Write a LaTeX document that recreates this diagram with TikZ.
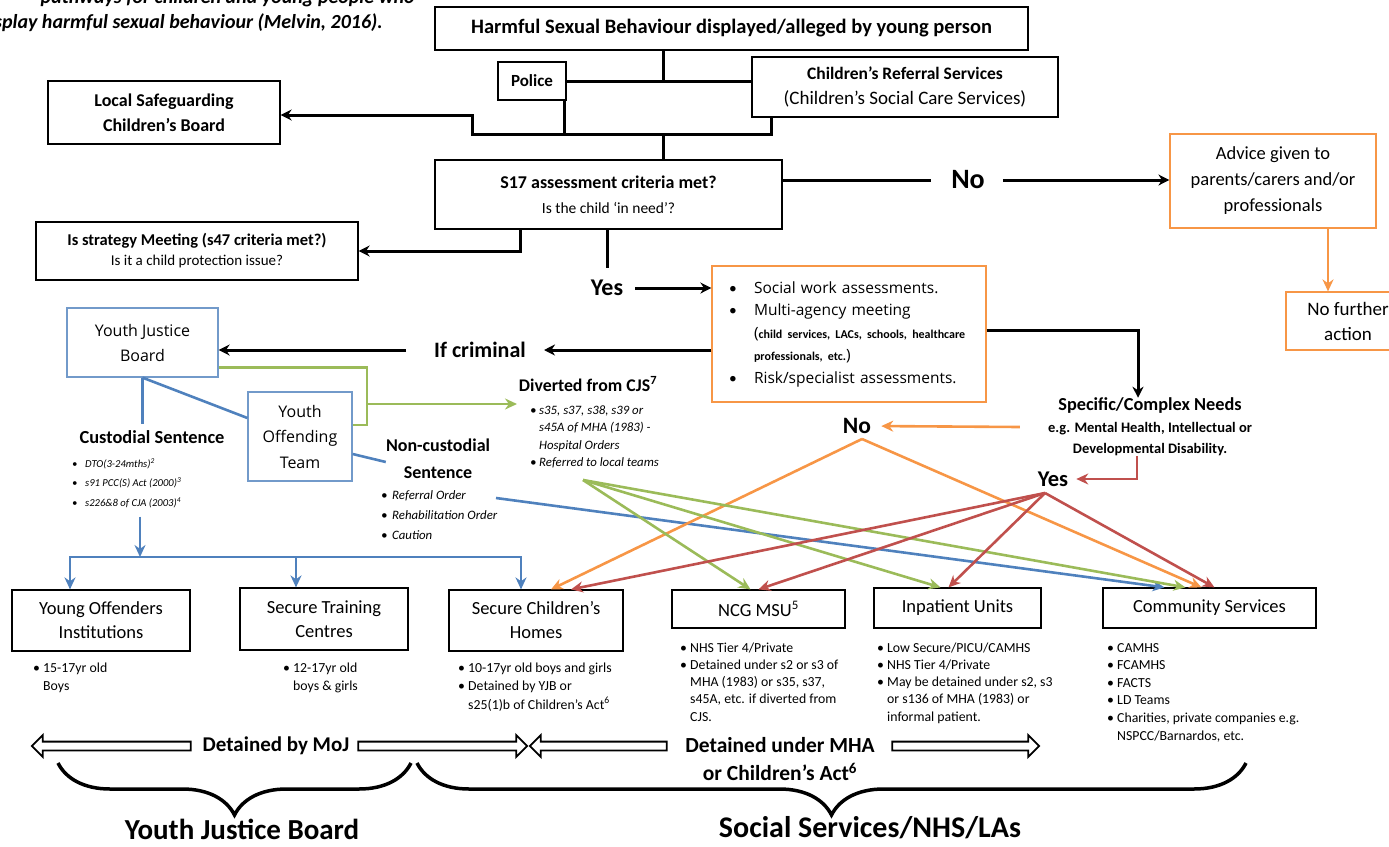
\documentclass[tikz,border=0pt]{standalone}
\usepackage{fontspec}
\setmainfont{Carlito}
\newfontfamily\osfont{Open Sans}
\usetikzlibrary{arrows.meta,decorations.pathreplacing,shapes.arrows}
\definecolor{hsorange}{HTML}{F79646}
\definecolor{hsblue}{HTML}{4F81BD}
\definecolor{hsgreen}{HTML}{9BBB59}
\definecolor{hsred}{HTML}{C0504D}
\newcommand{\fsz}[2]{\fontsize{#1}{#2}\selectfont}
\newcommand{\itm}[1][10pt]{\makebox[#1][l]{\rmfamily\textbullet}}

\begin{document}
\begin{tikzpicture}[x=1pt, y=-1pt,
    box/.style = {draw, line width=1.2pt, align=center, inner sep=0pt, font=\fsz{18.5}{24}},
    obox/.style = {box, draw=hsorange},
    bbox/.style = {box, draw=hsblue!80!white},
    lbl/.style = {inner sep=0pt, align=center},
    lst/.style = {inner sep=0pt, align=left, anchor=base west},
    con/.style = {line width=3pt},
    arr/.style = {con, -{Stealth[length=11pt,width=11pt]}},
    oline/.style = {line width=2.6pt, draw=hsorange},
    oarr/.style = {oline, -{Stealth[length=12pt,width=11pt]}},
    gline/.style = {line width=2.6pt, draw=hsgreen},
    garr/.style = {gline, -{Stealth[length=12pt,width=11pt]}},
    bline/.style = {line width=2.6pt, draw=hsblue},
    barr/.style = {bline, -{Stealth[length=12pt,width=11pt]}},
    rarr/.style = {line width=2.6pt, draw=hsred, -{Stealth[length=12pt,width=11pt]}},
    harrow/.style = {single arrow, draw, fill=white, line width=1.8pt, inner sep=3.5pt,
      single arrow head extend=6.5pt, single arrow head indent=0pt},
    brc/.style = {line width=3.5pt, decorate, decoration={brace, mirror, amplitude=52pt}}]
\clip (0,0) rectangle (1389,846);
\node[lbl, font=\bfseries\itshape\fsz{20}{25}, anchor=base east] (ttl1) at (415,3) {pathways for children and young people who};
\node[lbl, font=\bfseries\itshape\fsz{20}{25}, anchor=base east] (ttl2) at (383,28) {display harmful sexual behaviour (Melvin, 2016).};

\node[box, minimum width=593pt, minimum height=43pt, font=\bfseries\fsz{20.5}{24}] (hsb) at (731.5,28.5) {Harmful Sexual Behaviour displayed/alleged by young person};
\node[box, minimum width=68pt, minimum height=38pt, font=\bfseries\fsz{17}{20}] (police) at (532,81) {Police};
\node[box, minimum width=306pt, minimum height=60pt, font=\fsz{19}{25}] (crs) at (905,87) {{\bfseries\fsz{17.5}{25}Children’s Referral Services}\\(Children’s Social Care Services)};
\node[box, minimum width=232pt, minimum height=63pt, font=\bfseries\fsz{18}{25}] (lscb) at (164,112.5) {Local Safeguarding\\Children’s Board};
\node[box, minimum width=347pt, minimum height=69pt, font=\fsz{15.5}{25}] (s17) at (608.5,194.5) {{\bfseries\fsz{18}{25}S17 assessment criteria met?}\\Is the child ‘in need’?};
\node[box, minimum width=322pt, minimum height=58pt, font=\fsz{15}{20}] (strat) at (197,251) {{\bfseries\fsz{16.5}{20}Is strategy Meeting (s47 criteria met?)}\\Is it a child protection issue?};
\node[obox, minimum width=206pt, minimum height=94pt, font=\fsz{18.5}{26}] (advice) at (1273,181) {Advice given to\\parents/carers and/or\\professionals};
\node[obox, minimum width=124pt, minimum height=58pt, font=\fsz{19}{25}] (nfa) at (1348,321) {No further\\action};
\node[obox, minimum width=274pt, minimum height=136pt, text width=240pt, inner xsep=17pt, align=left, font=\osfont\fsz{15.5}{22.5}] (swk) at (849,334) {\itm[25pt]Social work assessments.\\ \itm[25pt]Multi-agency meeting\\ \hspace*{25pt}(\mbox{\rmfamily\bfseries\fsz{12}{12}child services, LACs, schools, healthcare}\\ \hspace*{25pt}\mbox{\rmfamily\bfseries\fsz{12}{12}professionals, etc.})\\ \itm[25pt]Risk/specialist assessments.};
\node[bbox, minimum width=151pt, minimum height=69pt, font=\osfont\fsz{16}{25}] (yjb) at (142.5,342.5) {Youth Justice\\Board};
\node[bbox, minimum width=104pt, minimum height=89pt, font=\osfont\fsz{16}{25.5}] (yot) at (300,436.5) {Youth\\Offending\\Team};

\node[lbl, font=\bfseries\fsz{28}{32}] (no1) at (968,180) {No};
\node[lbl, font=\bfseries\fsz{24}{28}] (yes1) at (607,288) {Yes};
\node[lbl, font=\bfseries\fsz{22}{26}] (crim) at (480,350) {If criminal};
\node[lbl, font=\bfseries\fsz{18.4}{22}] (cust) at (152,437) {Custodial Sentence};
\node[lst, font=\itshape\fsz{10.6}{19.5}] (custl) at (72,506) {\itm[13pt]DTO(3-24mths)\textsuperscript{2}\\ \itm[13pt]s91 PCC(S) Act (2000)\textsuperscript{3}\\ \itm[13pt]s226\&8 of CJA (2003)\textsuperscript{4}};
\node[lbl, font=\bfseries\fsz{18}{27}] (ncust) at (438,458.5) {Non-custodial\\Sentence};
\node[lst, font=\itshape\fsz{12.8}{20}] (ncustl) at (381,539) {\itm[11pt]Referral Order\\ \itm[11pt]Rehabilitation Order\\ \itm[11pt]Caution};
\node[lbl, font=\bfseries\fsz{17.8}{22}] (div) at (588,384) {Diverted from CJS\textsuperscript{7}};
\node[lst, font=\itshape\fsz{12.8}{17.5}] (divl) at (530,466.5) {\itm[9pt]s35, s37, s38, s39 or\\ \hspace*{9pt}s45A of MHA (1983) -\\ \hspace*{9pt}Hospital Orders\\ \itm[9pt]Referred to local teams};
\node[lbl, font=\bfseries\fsz{14.5}{21.5}] (needs) at (1150,427) {{\fsz{18.3}{21.5}Specific/Complex Needs}\\e.g. Mental Health, Intellectual or\\Developmental Disability.};
\node[lbl, font=\bfseries\fsz{23.5}{27}] (no2) at (857,426) {No};
\node[lbl, font=\bfseries\fsz{22.5}{26}] (yes2) at (1053,479) {Yes};

\node[box, minimum width=178pt, minimum height=61pt] (yoi) at (101,620.5) {Young Offenders\\Institutions};
\node[box, minimum width=168pt, minimum height=62pt] (stc) at (324,619) {Secure Training\\Centres};
\node[box, minimum width=174pt, minimum height=61pt] (sch) at (536,620.5) {Secure Children’s\\Homes};
\node[box, minimum width=173pt, minimum height=38pt] (msu) at (758.5,609) {NCG MSU\textsuperscript{5}};
\node[box, minimum width=167pt, minimum height=40pt] (inp) at (957.5,608) {Inpatient Units};
\node[box, minimum width=213pt, minimum height=40pt] (com) at (1209.5,608) {Community Services};

\node[lst, font=\fsz{13.8}{18}] (yoil) at (33,690) {\itm 15-17yr old\\ \hspace*{10pt}Boys};
\node[lst, font=\fsz{13.8}{18}] (stcl) at (283,690) {\itm 12-17yr old\\ \hspace*{10pt}boys \& girls};
\node[lst, font=\fsz{13.8}{18.5}] (schl) at (458,709) {\itm 10-17yr old boys and girls\\ \itm Detained by YJB or\\ \hspace*{10pt}s25(1)b of Children’s Act\textsuperscript{6}};
\node[lst, font=\fsz{13.8}{17.3}] (msul) at (680,721.2) {\itm NHS Tier 4/Private\\ \itm Detained under s2 or s3 of\\ \hspace*{10pt}MHA (1983) or s35, s37,\\ \hspace*{10pt}s45A, etc. if diverted from\\ \hspace*{10pt}CJS.};
\node[lst, font=\fsz{13.8}{17.3}] (inpl) at (877,721.2) {\itm Low Secure/PICU/CAMHS\\ \itm NHS Tier 4/Private\\ \itm May be detained under s2, s3\\ \hspace*{10pt}or s136 of MHA (1983) or\\ \hspace*{10pt}informal patient.};
\node[lst, font=\fsz{13.8}{17.6}] (coml) at (1107,740) {\itm CAMHS\\ \itm FCAMHS\\ \itm FACTS\\ \itm LD Teams\\ \itm Charities, private companies e.g.\\ \hspace*{10pt}NSPCC/Barnardos, etc.};

\node[lbl, font=\bfseries\fsz{21}{24}] (moj) at (276,746) {Detained by MoJ};
\node[lbl, font=\bfseries\fsz{21.5}{24}] (mha) at (780,745) {Detained under MHA};
\node[lbl, font=\bfseries\fsz{21.5}{24}] (act) at (780,772) {or Children’s Act\textsuperscript{6}};
\node[lbl, font=\bfseries\fsz{29}{32}] (yjbl) at (242,829) {Youth Justice Board};
\node[lbl, font=\bfseries\fsz{30}{34}] (ssl) at (870,828) {Social Services/NHS/LAs};

\node[harrow, shape border rotate=180, minimum height=159pt] (mojla) at (113.5,746) {};
\node[harrow, minimum height=169pt] (mojra) at (440.5,746) {};
\node[harrow, shape border rotate=180, minimum height=137pt] (mhala) at (600.5,746) {};
\node[harrow, minimum height=147pt] (mhara) at (963.5,746) {};

\coordinate (join) at (663,134);
\coordinate (lsturn) at (472,134);
\coordinate (gturn) at (367,404);
\coordinate (divtip) at (517,404);
\coordinate (bj) at (140,557);
\coordinate (refend) at (496,498);
\coordinate (refapex) at (583,480);
\coordinate (noapex) at (862,439);
\coordinate (yesapex) at (1045,493);

\draw[con] (join |- hsb.south) -- (join |- police.east);
\draw[con] (police.east) -- (police.east -| crs.west);
\draw[con] ([xshift=-2pt]police.south east) |- (join) -| ([xshift=20pt]crs.south west);
\draw[con] (join) -- (join |- s17.north);
\draw[arr] (join) -- (lsturn) |- ([yshift=-2.5pt]lscb.east);
\draw[arr] ([xshift=-88.5pt]s17.south) |- (strat.east);
\draw[con, shorten >=12pt] (yes1 |- s17.south) -- (yes1);
\draw[arr, shorten <=12pt] (yes1.east) -- (yes1.east -| swk.west);
\draw[con, shorten >=20pt] (no1.west -| s17.east) -- (no1.west);
\draw[arr, shorten <=18pt] (no1.east) -- (no1.east -| advice.west);
\draw[oarr] ([xshift=55pt]advice.south) -- ([xshift=55pt]advice.south |- nfa.north);
\draw[arr, shorten >=18pt] ([yshift=-16pt]swk.west) -- (crim.east);
\draw[arr, shorten <=28pt] (crim.west) -- (crim.west -| yjb.east);
\draw[arr] ([yshift=4pt]swk.east) -| ([xshift=-12pt]needs.north);

\draw[gline] ([yshift=-25pt]yjb.east) -| (gturn) |- ([yshift=11.5pt]yot.east);
\draw[garr] (gturn) -- (divtip);
\draw[bline] (yjb.south) -- ([yshift=18.5pt]yot.west);
\draw[bline, shorten >=6pt] (yjb.south) -- (yjb.south |- cust.north);
\draw[bline] ([yshift=-17.5pt]yot.east) -- ([yshift=-3.5pt]ncust.west);
\draw[barr, shorten <=9pt] (bj |- custl.south) -- (bj);
\draw[barr] (bj) -| ([xshift=-31pt]yoi.north);
\draw[barr] (bj) -| ([xshift=-28pt]stc.north);
\draw[barr] (bj) -| ([xshift=-15pt]sch.north);
\draw[barr] (refend) -- ([xshift=-45pt]com.north);

\draw[oarr, shorten >=10pt] ([xshift=-28pt]needs.west) -- (no2.east);
\draw[rarr, shorten >=8pt] ([xshift=-13pt]needs.south) |- (yes2.east);
\draw[oarr] (noapex) -- ([xshift=15pt]sch.north);
\draw[oarr] (noapex) -- ([xshift=-8pt]com.north);
\draw[garr] (refapex) -- ([xshift=-8pt]msu.north);
\draw[garr] (refapex) -- ([xshift=-17pt]inp.north);
\draw[garr] (refapex) -- ([xshift=-24pt]com.north);
\draw[rarr] (yesapex) -- ([xshift=35pt]sch.north);
\draw[rarr] (yesapex) -- (msu.north);
\draw[rarr] (yesapex) -- ([xshift=-9pt]inp.north);
\draw[rarr] (yesapex) -- ([xshift=5pt]com.north);

\draw[brc] (58,763) -- (411,763);
\draw[brc] (417,763) -- (1246,763);
\end{tikzpicture}
\end{document}
